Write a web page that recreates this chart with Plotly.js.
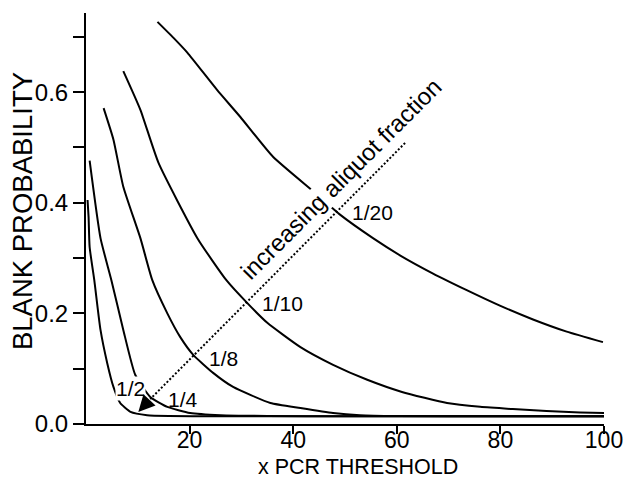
<!DOCTYPE html>
<html><head><meta charset="utf-8">
<script src="https://cdn.plot.ly/plotly-3.0.1.min.js"></script>
<style>html,body{margin:0;padding:0;background:#fff}#chart{width:626px;height:481px}</style>
</head><body><div id="chart"></div>
<script>
// x = PCR threshold, y = blank probability, one curve per aliquot fraction
const fractions = ['1/2', '1/4', '1/8', '1/10', '1/20'];

const xHalf = [0.3, 0.5, 0.7, 1.6, 2.8, 4.1, 5.3, 6.6, 8.6, 11.8, 16, 25, 40, 60, 80, 100];
const yHalf = [0.405, 0.374, 0.32, 0.26, 0.17, 0.11, 0.067, 0.038, 0.022, 0.016, 0.0145, 0.014, 0.014, 0.014, 0.014, 0.014];

const xQuarter = [0.7, 2.8, 4.9, 7.2, 9.5, 12.4, 15.7, 20.1, 26, 35, 50, 70, 100];
const yQuarter = [0.476, 0.336, 0.26, 0.17, 0.089, 0.049, 0.031, 0.020, 0.016, 0.0145, 0.014, 0.014, 0.014];

const xEighth = [3.4, 5.3, 7.2, 10.5, 12.8, 15.7, 18.2, 20.7, 24.6, 28.4, 35.6, 41.4, 47.7, 52.9, 60, 80, 100];
const yEighth = [0.571, 0.514, 0.429, 0.336, 0.26, 0.20, 0.157, 0.125, 0.092, 0.067, 0.038, 0.029, 0.020, 0.016, 0.0145, 0.014, 0.014];

const xTenth = [7.2, 10.5, 14.0, 21.5, 27.1, 31.1, 35.0, 41.4, 47.7, 54.3, 61, 69.7, 76.1, 82.4, 88.9, 95.4, 100];
const yTenth = [0.638, 0.568, 0.472, 0.336, 0.26, 0.219, 0.183, 0.139, 0.107, 0.080, 0.058, 0.038, 0.031, 0.027, 0.0235, 0.021, 0.020];

const xTwentieth = [13.8, 16.9, 19.6, 25.3, 29.8, 36.1, 44.2, 49.1, 55.4, 60.6, 67.0, 73.5, 79.9, 86.3, 92.8, 99.8];
const yTwentieth = [0.727, 0.698, 0.671, 0.604, 0.555, 0.483, 0.418, 0.378, 0.336, 0.305, 0.272, 0.242, 0.214, 0.189, 0.167, 0.148];

// label anchor positions (data coords) for each fraction
const labelX = [8.6, 18.8, 26.5, 37.9, 55.4];
const labelY = [0.065, 0.0434, 0.119, 0.217, 0.383];

const xTickVals = [20, 40, 60, 80, 100];
const yTickVals = [0, 0.1, 0.2, 0.3, 0.4, 0.5, 0.6, 0.7];
const yTickText = ['0.0', '', '0.2', '', '0.4', '', '0.6', ''];

const FONT = 'Liberation Sans, Arial, Helvetica, sans-serif';
const series = [[xHalf, yHalf], [xQuarter, yQuarter], [xEighth, yEighth], [xTenth, yTenth], [xTwentieth, yTwentieth]];

const traces = series.map((s, i) => ({
  x: s[0], y: s[1], name: fractions[i], type: 'scatter', mode: 'lines',
  line: {color: '#000', width: 2, shape: 'spline', smoothing: 0.5},
  hoverinfo: 'x+y+name'
}));

const annotations = fractions.map((f, i) => ({
  x: labelX[i], y: labelY[i], xref: 'x', yref: 'y', text: f, showarrow: false,
  font: {family: FONT, size: 21, color: '#000'},
  bgcolor: i === 0 ? '#fff' : 'rgba(0,0,0,0)', borderpad: 0
}));

annotations.push({
  x: 49.3, y: 0.443, xref: 'x', yref: 'y', text: 'increasing aliquot fraction',
  showarrow: false, textangle: -45,
  font: {family: FONT, size: 24, color: '#000'},
  bgcolor: '#fff', borderpad: 0
});

annotations.push({
  x: 10.1, y: 0.0217, xref: 'x', yref: 'y', ax: 12.4, ay: 0.045, axref: 'x', ayref: 'y',
  text: '', showarrow: true, arrowhead: 2, arrowwidth: 1.5, arrowsize: 2.2, arrowcolor: '#000', standoff: 0
});

// axis titles
annotations.push({
  x: 0.525, y: -0.1363, xref: 'paper', yref: 'paper', xanchor: 'center', yanchor: 'bottom',
  text: 'x PCR THRESHOLD', showarrow: false, borderpad: 0,
  font: {family: FONT, size: 21.5, color: '#000'}
});
annotations.push({
  x: -0.1236, y: 0.518, xref: 'paper', yref: 'paper', xanchor: 'center', yanchor: 'middle',
  text: 'BLANK PROBABILITY', showarrow: false, textangle: -90,
  font: {family: FONT, size: 27.5, color: '#000'}
});

const layout = {
  width: 626, height: 481,
  margin: {l: 86, r: 22, t: 13, b: 57},
  paper_bgcolor: '#fff', plot_bgcolor: '#fff',
  showlegend: false,
  font: {family: FONT, color: '#000'},
  xaxis: {
    range: [0, 100], tickvals: xTickVals, ticks: 'outside', ticklen: 8, tickwidth: 2, tickcolor: '#000',
    showline: true, linewidth: 2, linecolor: '#000', showgrid: false, zeroline: false,
    ticklabelstandoff: -14,
    tickfont: {family: FONT, size: 23, color: '#000'}
  },
  yaxis: {
    range: [0, 0.743], tickvals: yTickVals, ticktext: yTickText, ticks: 'outside', ticklen: 11, tickwidth: 2, tickcolor: '#000',
    showline: true, linewidth: 2, linecolor: '#000', showgrid: false, zeroline: false,
    tickfont: {family: FONT, size: 24, color: '#000'}
  },
  shapes: [{
    type: 'line', xref: 'x', yref: 'y', x0: 61.6, y0: 0.508, x1: 12.4, y1: 0.045,
    line: {color: '#000', width: 2, dash: '2px,2px'}
  }],
  annotations: annotations
};

Plotly.newPlot('chart', traces, layout, {displayModeBar: false, staticPlot: true});
</script>
</body></html>
